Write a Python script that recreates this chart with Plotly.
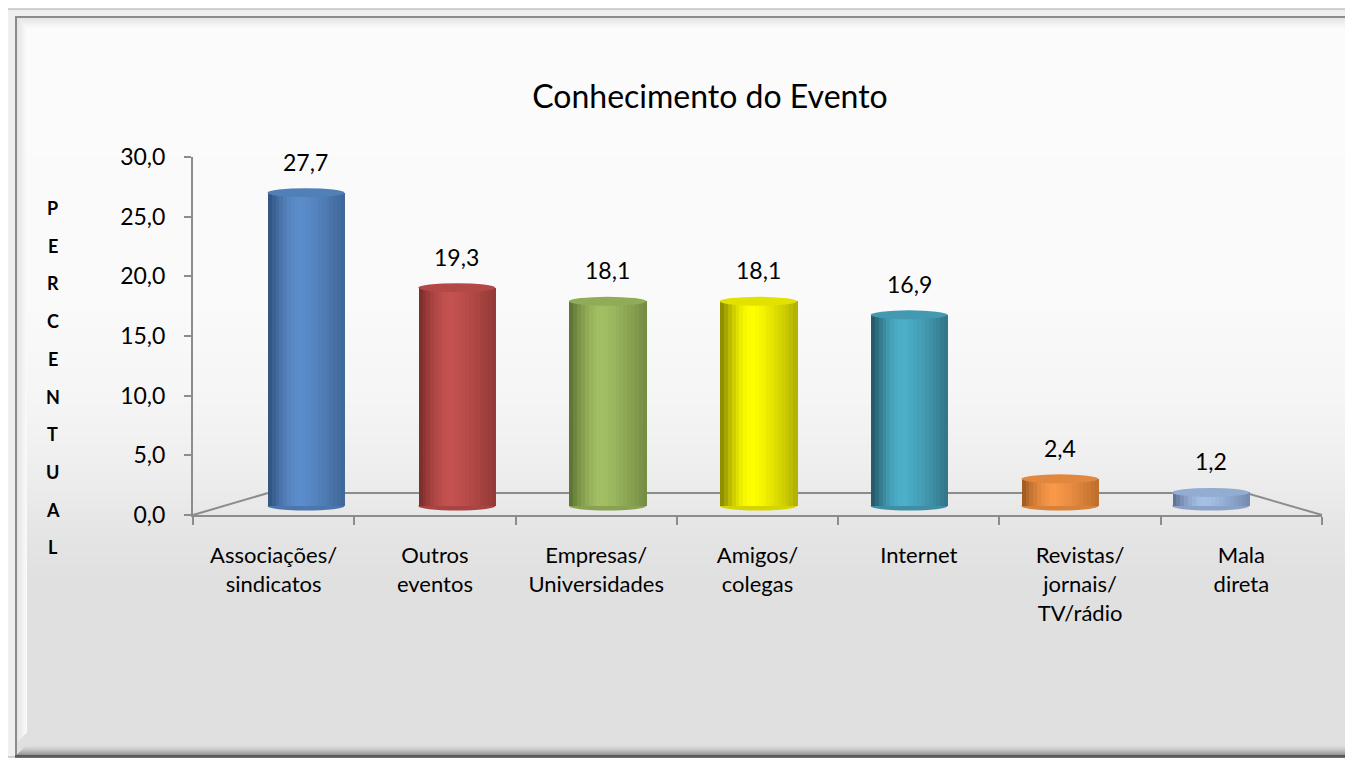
import math
import plotly.graph_objects as go

# ---------------- data ----------------
categories = ["Associações/<br>sindicatos", "Outros<br>eventos", "Empresas/<br>Universidades",
              "Amigos/<br>colegas", "Internet", "Revistas/<br>jornais/<br>TV/rádio", "Mala<br>direta"]
values = [27.7, 19.3, 18.1, 18.1, 16.9, 2.4, 1.2]
peak_colors = ["#5B8DCB", "#C4524F", "#A2BF64", "#FFFF00", "#4DAFC9", "#F89848", "#A5C0E6"]
edge_colors = ["#27456C", "#6A2422", "#4D6026", "#6E6E00", "#1B4350", "#8A4A17", "#4A5D7E"]
y_ticks = [0, 5, 10, 15, 20, 25, 30]
title_text = "Conhecimento do Evento"
y_title = "PERCENTUAL"

# ---------------- helpers ----------------
W, H = 1353, 759
OFF = 8  # page body margin of the browser
FONT = "Lato"


def px(x):
    return (x - OFF) / W


def py(y):
    return 1 - (y - OFF) / H


def hex2rgb(h):
    h = h.lstrip("#")
    return [int(h[i:i + 2], 16) for i in (0, 2, 4)]


def mix(c1, c2, w):
    a, b = hex2rgb(c1), hex2rgb(c2)
    r = [round(a[k] + (b[k] - a[k]) * w) for k in range(3)]
    return "rgb(%d,%d,%d)" % tuple(r)


def shade(t):
    pk = 0.42
    if t <= pk:
        return math.sin(math.pi / 2 * t / pk) * 0.85 + 0.15
    return 1 - 0.55 * ((t - pk) / (1 - pk)) ** 1.3


fig = go.Figure()

# ---------------- bars (cylinders as shaded strips) ----------------
idx = list(range(len(categories)))
N = 20
bar_w = 0.51
for i in range(N):
    t = (i + 0.5) / N
    s = shade(t)
    cols = [mix(e, p, s) for e, p in zip(edge_colors, peak_colors)]
    fig.add_trace(go.Bar(
        x=idx, y=values, xaxis="x2", yaxis="y2",
        width=bar_w / N * 1.1, offset=-bar_w / 2 + i * bar_w / N,
        marker=dict(color=cols, line=dict(width=0)),
        hoverinfo="skip", showlegend=False,
    ))

# invisible trace to set up front category axis
fig.add_trace(go.Bar(x=categories, y=[0] * len(categories), xaxis="x", yaxis="y",
                     marker=dict(color="rgba(0,0,0,0)"), hoverinfo="skip", showlegend=False))

# ---------------- background & frame shapes ----------------
shapes = []
shapes.append(dict(type="rect", xref="paper", yref="paper", x0=px(7), x1=px(1375), y0=py(757), y1=py(9),
                   fillcolor="#EFEFEF", line=dict(color="#A6A6A6", width=1), layer="below"))
stops = [(16, 0xFB), (300, 0xFA), (400, 0xF5), (470, 0xEE), (530, 0xE5), (580, 0xE0), (757, 0xE0)]


def grad(y):
    for (y0, c0), (y1, c1) in zip(stops[:-1], stops[1:]):
        if y0 <= y <= y1:
            return c0 + (c1 - c0) * (y - y0) / (y1 - y0)
    return stops[-1][1]


step = 4
y = 16
while y < 757:
    c = round(grad(y + step / 2))
    shapes.append(dict(type="rect", xref="paper", yref="paper", x0=px(15), x1=px(1375),
                       y0=py(min(y + step + 0.5, 757)), y1=py(y), fillcolor="rgb(%d,%d,%d)" % (c, c, c),
                       line=dict(width=0), layer="below"))
    y += step
# bevel: top/left light shading, bottom dark band
for k in range(12):
    c = round(0xE2 + (0xFB - 0xE2) * k / 12)
    shapes.append(dict(type="rect", xref="paper", yref="paper", x0=px(15 + k), x1=px(16 + k),
                       y0=py(744 - k), y1=py(16 + k), fillcolor="rgb(%d,%d,%d)" % (c, c, c),
                       line=dict(width=0), layer="below"))
    shapes.append(dict(type="rect", xref="paper", yref="paper", x0=px(15 + k), x1=px(1375),
                       y0=py(17 + k), y1=py(16 + k), fillcolor="rgb(%d,%d,%d)" % (c, c, c),
                       line=dict(width=0), layer="below"))
for k in range(14):
    c = round(0xE0 - (0xE0 - 0x70) * (k / 13) ** 1.6)
    shapes.append(dict(type="rect", xref="paper", yref="paper", x0=px(15 + 12 - min(k, 12)), x1=px(1375),
                       y0=py(744 + k + 1), y1=py(744 + k), fillcolor="rgb(%d,%d,%d)" % (c, c, c),
                       line=dict(width=0), layer="below"))
shapes.append(dict(type="line", xref="paper", yref="paper", x0=px(15), x1=px(1375), y0=py(17), y1=py(17),
                   line=dict(color="#8C8C8C", width=2), layer="below"))
shapes.append(dict(type="line", xref="paper", yref="paper", x0=px(16), x1=px(16), y0=py(757), y1=py(17),
                   line=dict(color="#8C8C8C", width=2), layer="below"))
shapes.append(dict(type="line", xref="paper", yref="paper", x0=px(15), x1=px(1375), y0=py(756), y1=py(756),
                   line=dict(color="#5A5A5A", width=2), layer="below"))

# 3D floor outline
floor_col = "#8C8C8C"
for (xa, ya, xb, yb) in [(193, 515, 268, 493), (268, 493, 1246, 493), (1246, 493, 1322, 515)]:
    shapes.append(dict(type="line", xref="paper", yref="paper", x0=px(xa), x1=px(xb), y0=py(ya), y1=py(yb),
                       line=dict(color=floor_col, width=2), layer="below"))

# cylinder caps / bottoms (computed from the values through the bar axes)
ppu2 = 11.31
cap_h = 4.5 / ppu2
for i, v in enumerate(values):
    shapes.append(dict(type="circle", xref="x2", yref="y2", x0=i - bar_w / 2, x1=i + bar_w / 2,
                       y0=-cap_h, y1=cap_h, fillcolor=mix(edge_colors[i], peak_colors[i], 0.7),
                       line=dict(width=0), layer="below"))
    shapes.append(dict(type="circle", xref="x2", yref="y2", x0=i - bar_w / 2, x1=i + bar_w / 2,
                       y0=v - cap_h, y1=v + cap_h, fillcolor=mix(edge_colors[i], peak_colors[i], 0.8),
                       line=dict(width=0), layer="above"))

# ---------------- annotations ----------------
annotations = []
for i, v in enumerate(values):
    annotations.append(dict(x=i, y=v, xref="x2", yref="y2", text=("%.1f" % v).replace(".", ","),
                            showarrow=False, yanchor="bottom", yshift=15,
                            font=dict(family=FONT, size=23, color="#000000")))
letter_y0, letter_dy = 208, 37.7
for k, ch in enumerate(y_title):
    annotations.append(dict(x=px(53), y=py(letter_y0 + k * letter_dy), xref="paper", yref="paper",
                            text="<b>%s</b>" % ch, showarrow=False, xanchor="center", yanchor="middle",
                            font=dict(family=FONT, size=18, color="#000000")))

# ---------------- layout ----------------
y2_zero, y2_lo, y2_hi = 506, -0.7, 30.5
fig.update_layout(
    template="none",
    width=W, height=H, autosize=False,
    margin=dict(l=0, r=0, t=0, b=0, pad=0, autoexpand=False),
    paper_bgcolor="white", plot_bgcolor="rgba(0,0,0,0)",
    barmode="overlay", bargap=0,
    separators=",.",
    showlegend=False,
    title=dict(text=title_text, x=px(710), y=py(97), xanchor="center", yanchor="middle",
               font=dict(family=FONT, size=32, color="#000000")),
    xaxis=dict(domain=[px(193), px(1322)], anchor="y", type="category", range=[-0.5, 6.5],
               automargin=False,
               showline=True, linecolor="#8C8C8C", linewidth=2, ticks="outside", tickson="boundaries",
               ticklen=8, tickwidth=2, tickcolor="#8C8C8C", showgrid=False, zeroline=False,
               tickfont=dict(family=FONT, size=22, color="#000000"), ticklabelstandoff=20,
               fixedrange=True),
    yaxis=dict(domain=[py(515), py(157)], anchor="x", range=[0, 30], tickvals=y_ticks, tickformat=".1f",
               automargin=False,
               showline=True, linecolor="#8C8C8C", linewidth=2, ticks="outside", ticklen=7, tickwidth=2,
               tickcolor="#8C8C8C", showgrid=False, zeroline=False,
               tickfont=dict(family=FONT, size=23, color="#000000"), ticklabelstandoff=14,
               fixedrange=True),
    xaxis2=dict(domain=[px(230.6), px(1286)], anchor="y2", range=[-0.5, 6.5], visible=False,
                automargin=False, fixedrange=True),
    yaxis2=dict(domain=[py(y2_zero - y2_lo * ppu2), py(y2_zero - y2_hi * ppu2)], anchor="x2",
                range=[y2_lo, y2_hi], visible=False, automargin=False, fixedrange=True),
    shapes=shapes,
    annotations=annotations,
)

fig.write_html("out.html", config={"displayModeBar": False})
